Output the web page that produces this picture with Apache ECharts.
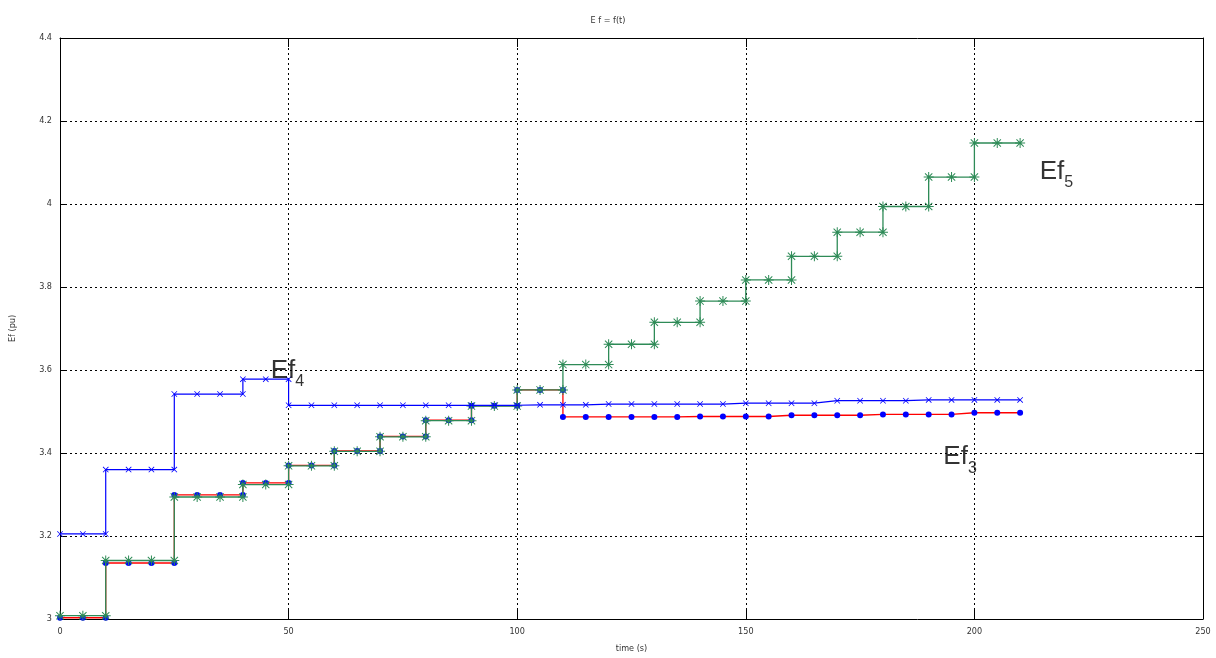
<!DOCTYPE html>
<html>
<head>
<meta charset="utf-8">
<script src="https://cdn.jsdelivr.net/npm/echarts@6/dist/echarts.min.js"></script>
<style>html,body{margin:0;padding:0;background:#fff}#c{width:1216px;height:658px}</style>
</head>
<body>
<div id="c"></div>
<script>
// ---- data (time in s, Ef in pu) ----
const xTicks = [0, 50, 100, 150, 200, 250];
const yTicks = [3, 3.2, 3.4, 3.6, 3.8, 4, 4.2, 4.4];

const tEf3 = [0,5,10,10,15,20,25,25,30,35,40,40,45,50,50,55,60,60,65,70,70,75,80,80,85,90,90,95,100,100,105,110,110,115,120,125,130,135,140,145,150,155,160,165,170,175,180,185,190,195,200,205,210];
const vEf3 = [3.003,3.003,3.003,3.135,3.135,3.135,3.135,3.299,3.299,3.299,3.299,3.328,3.328,3.328,3.370,3.370,3.370,3.405,3.405,3.405,3.440,3.440,3.440,3.479,3.479,3.479,3.514,3.514,3.514,3.552,3.552,3.552,3.487,3.487,3.487,3.487,3.487,3.487,3.488,3.488,3.488,3.488,3.491,3.491,3.491,3.491,3.493,3.493,3.493,3.493,3.497,3.497,3.497];

const tEf4 = [0,5,10,10,15,20,25,25,30,35,40,40,45,50,50,55,60,65,70,75,80,85,90,95,100,105,110,115,120,125,130,135,140,145,150,155,160,165,170,175,180,185,190,195,200,205,210];
const vEf4 = [3.205,3.205,3.205,3.360,3.360,3.360,3.360,3.542,3.542,3.542,3.542,3.578,3.578,3.578,3.515,3.515,3.515,3.515,3.515,3.515,3.515,3.515,3.515,3.515,3.515,3.516,3.516,3.516,3.518,3.518,3.518,3.518,3.518,3.518,3.520,3.520,3.520,3.520,3.526,3.526,3.526,3.526,3.528,3.528,3.528,3.528,3.528];

const tEf5 = [0,5,10,10,15,20,25,25,30,35,40,40,45,50,50,55,60,60,65,70,70,75,80,80,85,90,90,95,100,100,105,110,110,115,120,120,125,130,130,135,140,140,145,150,150,155,160,160,165,170,170,175,180,180,185,190,190,195,200,200,205,210];
const vEf5 = [3.008,3.008,3.008,3.141,3.141,3.141,3.141,3.294,3.294,3.294,3.294,3.324,3.324,3.324,3.369,3.369,3.369,3.404,3.404,3.404,3.439,3.439,3.439,3.478,3.478,3.478,3.513,3.513,3.513,3.552,3.552,3.552,3.613,3.613,3.613,3.662,3.662,3.662,3.715,3.715,3.715,3.766,3.766,3.766,3.817,3.817,3.817,3.874,3.874,3.874,3.932,3.932,3.932,3.994,3.994,3.994,4.065,4.065,4.065,4.147,4.147,4.147];

const annoBase = ['Ef', 'Ef', 'Ef'];
const annoSub = ['4', '5', '3'];
const annoT = [46.1, 214.3, 193.2];
const annoV = [3.598, 4.077, 3.390];

// ---- chart ----
const pairs = (t, v) => t.map((x, i) => [x, v[i]]);
const crossPath = 'path://M1.7,1 L9,8.3 L8.3,9 L1,1.7 Z M8.3,1 L9,1.7 L1.7,9 L1,8.3 Z';
const starPath = 'path://M4.5,0 L5.5,0 L5.5,10 L4.5,10 Z M0,4.5 L10,4.5 L10,5.5 L0,5.5 Z M1.7,1 L9,8.3 L8.3,9 L1,1.7 Z M8.3,1 L9,1.7 L1.7,9 L1,8.3 Z';
const smallFont = '"Liberation Sans Narrow","DejaVu Sans Condensed","Liberation Sans",sans-serif';

const gridLine = {show: true, lineStyle: {color: '#000', type: [2, 3], width: 1}};
const axLine = {show: true, onZero: false, lineStyle: {color: '#000', width: 1}};

const chart = echarts.init(document.getElementById('c'), null, {renderer: 'canvas'});
chart.setOption({
  animation: false,
  backgroundColor: '#fff',
  title: {
    text: 'E f = f(t)', left: 'center', top: 11,
    textStyle: {fontSize: 9, fontWeight: 'normal', color: '#333', fontFamily: smallFont}
  },
  grid: {left: 60, right: 13, top: 38, bottom: 36},
  xAxis: [{
    type: 'value', min: xTicks[0], max: xTicks[xTicks.length - 1], interval: 50,
    name: 'time (s)', nameLocation: 'middle', nameGap: 25,
    nameTextStyle: {fontSize: 9, color: '#333', fontFamily: smallFont},
    axisLine: axLine,
    axisTick: {show: true, inside: true, length: 9, lineStyle: {color: '#000'}},
    axisLabel: {fontSize: 9, color: '#333', margin: 8, fontFamily: smallFont},
    splitLine: gridLine
  }, {
    type: 'value', position: 'top', min: xTicks[0], max: xTicks[xTicks.length - 1], interval: 50,
    axisLine: axLine,
    axisTick: {show: true, inside: true, length: 9, lineStyle: {color: '#000'}},
    axisLabel: {show: false}, splitLine: {show: false}
  }],
  yAxis: [{
    type: 'value', min: yTicks[0], max: yTicks[yTicks.length - 1], interval: 0.2,
    name: 'Ef (pu)', nameLocation: 'middle', nameGap: 43, nameRotate: 90,
    nameTextStyle: {fontSize: 9, color: '#333', fontFamily: smallFont},
    axisLine: axLine,
    axisTick: {show: true, inside: true, length: 6, lineStyle: {color: '#000'}},
    axisLabel: {fontSize: 9, color: '#333', margin: 8, fontFamily: smallFont},
    splitLine: gridLine
  }, {
    type: 'value', position: 'right', min: yTicks[0], max: yTicks[yTicks.length - 1], interval: 0.2,
    axisLine: axLine,
    axisTick: {show: true, inside: true, length: 6, lineStyle: {color: '#000'}},
    axisLabel: {show: false}, splitLine: {show: false}
  }],
  series: [{
    name: 'Ef5', type: 'line', data: pairs(tEf5, vEf5),
    symbol: starPath, symbolSize: 10, showSymbol: true,
    lineStyle: {color: '#2e8b57', width: 1.3},
    itemStyle: {color: '#2e8b57'}, z: 3
  }, {
    name: 'Ef3', type: 'line', data: pairs(tEf3, vEf3),
    symbol: 'circle', symbolSize: 6, showSymbol: true,
    lineStyle: {color: '#ff0000', width: 1.3},
    itemStyle: {color: '#0000ff'}, z: 2
  }, {
    name: 'Ef4', type: 'line', data: pairs(tEf4, vEf4),
    symbol: crossPath, symbolSize: 6, showSymbol: true,
    lineStyle: {color: '#0000ff', width: 1.2},
    itemStyle: {color: '#0000ff'}, z: 4
  }, {
    name: 'labels', type: 'scatter', symbolSize: 0, silent: true, z: 5,
    data: annoT.map((t, i) => ({value: [t, annoV[i]], name: '{a|' + annoBase[i] + '}{b|' + annoSub[i] + '}'})),
    label: {
      show: true, position: 'right', distance: 0,
      formatter: p => p.name,
      rich: {
        a: {fontSize: 26, lineHeight: 26, verticalAlign: 'top', color: '#000', fontFamily: 'Liberation Sans, Arial, sans-serif'},
        b: {fontSize: 16, lineHeight: 16, padding: [16, 0, 0, 0], verticalAlign: 'top', color: '#000', fontFamily: 'Liberation Sans, Arial, sans-serif'}
      }
    }
  }]
});
</script>
</body>
</html>
